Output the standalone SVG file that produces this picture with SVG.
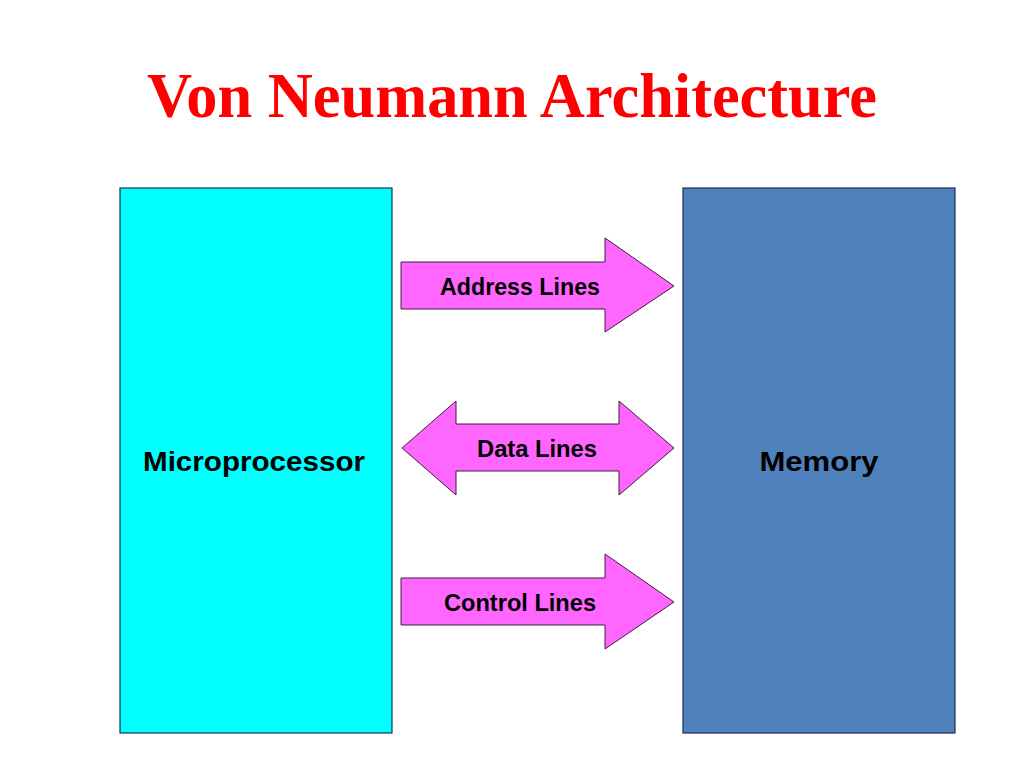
<svg xmlns="http://www.w3.org/2000/svg" width="1024" height="768" viewBox="0 0 1024 768">
<style>
.title{font-family:"Liberation Serif","Times New Roman",serif;font-weight:bold;font-size:64px;fill:#FF0000}
.lbl{font-family:"Liberation Sans",Arial,sans-serif;font-weight:bold;fill:#000}
.box{stroke:#1F2F4F;stroke-width:1.2}
.arrow{fill:#FF66FF;stroke:#3F1F3F;stroke-width:1}
</style>
<rect width="1024" height="768" fill="#FFFFFF"/>
<text class="title" x="512" y="117" text-anchor="middle" textLength="730" lengthAdjust="spacingAndGlyphs">Von Neumann Architecture</text>
<g id="microprocessor">
<rect class="box" x="120" y="188" width="272" height="545" fill="#00FFFF"/>
<text class="lbl" x="254" y="471" text-anchor="middle" font-size="28" textLength="222" lengthAdjust="spacingAndGlyphs">Microprocessor</text>
</g>
<g id="memory">
<rect class="box" x="683" y="188" width="272" height="545" fill="#4F81BD"/>
<text class="lbl" x="819" y="471" text-anchor="middle" font-size="28" textLength="119" lengthAdjust="spacingAndGlyphs">Memory</text>
</g>
<g id="connectors">
<g id="address-lines">
<polygon class="arrow" points="401,262 605,262 605,238 674,286 605,332 605,309 401,309"/>
<text class="lbl" x="520" y="295" text-anchor="middle" font-size="24" textLength="160" lengthAdjust="spacingAndGlyphs">Address Lines</text>
</g>
<g id="data-lines">
<polygon class="arrow" points="402,448 456,401 456,424 619,424 619,401 674,448 619,495 619,471 456,471 456,495"/>
<text class="lbl" x="537" y="457" text-anchor="middle" font-size="24" textLength="120" lengthAdjust="spacingAndGlyphs">Data Lines</text>
</g>
<g id="control-lines">
<polygon class="arrow" points="401,578 605,578 605,554 674,602 605,649 605,625 401,625"/>
<text class="lbl" x="520" y="611" text-anchor="middle" font-size="24" textLength="152" lengthAdjust="spacingAndGlyphs">Control Lines</text>
</g>
</g>
</svg>
